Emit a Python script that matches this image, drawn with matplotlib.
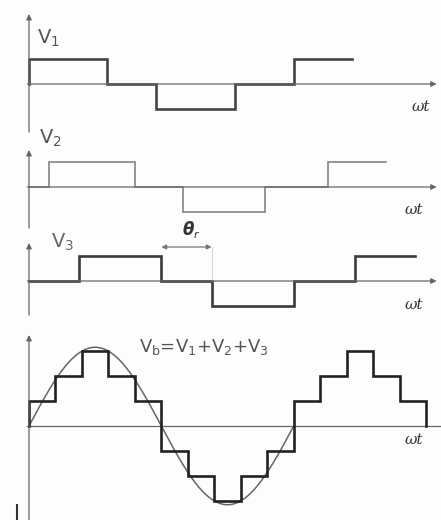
"""
Multilevel inverter: three phase-shifted square pulses V1, V2, V3
and the stepped output Vb = V1 + V2 + V3 against a sine reference.
"""
import numpy as np
import matplotlib
matplotlib.use("Agg")
import matplotlib.pyplot as plt

# switching instants (in step units) and levels of each pulse train
v1_edges = [0, 2.95, 4.8, 7.8, 10.0, 12.2]
v1_levels = [1, 0, -1, 0, 1]
v2_edges = [0, 0.75, 4.0, 5.8, 8.9, 11.3, 13.5]
v2_levels = [0, 1, 0, -1, 0, 1]
v3_edges = [0, 1.9, 5.0, 6.9, 10.0, 12.3, 14.6]
v3_levels = [0, 1, 0, -1, 0, 1]
vb_edges = [0, 1, 2, 3, 4, 5, 6, 7, 8, 9, 10, 11, 12, 13, 14, 15]
vb_levels = [1, 2, 3, 2, 1, -1, -2, -3, -2, -1, 1, 2, 3, 2, 1]

sine_amp = 3.15
sine_period = 10.0
theta_r = (5.0, 6.9)

W, H = 441, 520
X0, UX, UY = 29, 26.47, 25.0
AX_COL = "#666666"


def steps(edges, levels, rise=False, fall=False):
    xs = list(np.repeat(edges, 2)[1:-1])
    ys = list(np.repeat(levels, 2))
    if rise:
        xs, ys = [edges[0]] + xs, [0] + ys
    if fall:
        xs, ys = xs + [edges[-1]], ys + [0]
    return xs, ys


def panel(top, bottom, base):
    ax = fig.add_axes([0, 1 - bottom / H, 1, (bottom - top) / H])
    ax.set_xlim(-X0 / UX, (W - X0) / UX)
    ax.set_ylim(-(bottom - base) / UY, (base - top) / UY)
    ax.axis("off")
    ax.patch.set_alpha(0)
    return ax


def axes_lines(ax, ytop, ybot, xend, arrow_x=True):
    ax.annotate("", xy=(0, ytop), xytext=(0, ybot),
                arrowprops=dict(arrowstyle="-|>", mutation_scale=8,
                                lw=0.9, color=AX_COL, shrinkA=0, shrinkB=0))
    if arrow_x:
        ax.annotate("", xy=(xend, 0), xytext=(-0.06, 0),
                    arrowprops=dict(arrowstyle="-|>", mutation_scale=8,
                                    lw=0.9, color=AX_COL, shrinkA=0, shrinkB=0))
    else:
        ax.plot([-0.06, xend], [0, 0], color=AX_COL, lw=0.9)


def wt(ax, x, y):
    ax.text(x, y, "ωt", family="DejaVu Serif", style="italic",
            fontsize=11, color="#333333", ha="center", va="center")


fig = plt.figure(figsize=(W / 100, H / 100), dpi=100)
fig.patch.set_facecolor("#fdfdfd")

# V1
ax1 = panel(0, 135, 84)
axes_lines(ax1, 2.8, -1.92, 15.4)
x, y = steps(v1_edges, v1_levels, rise=True)
ax1.plot(x, y, color="#444444", lw=1.9, solid_joinstyle="miter")
ax1.text(0.3, 1.84, r"V$_{\mathregular{1}}$", fontsize=14, color="#555555",
         va="center")
wt(ax1, 14.8, -0.92)

# V2
ax2 = panel(135, 232, 187)
axes_lines(ax2, 1.48, -1.64, 15.4)
x, y = steps(v2_edges, v2_levels)
ax2.plot(x, y, color="#7a7a7a", lw=1.1, solid_joinstyle="miter")
ax2.text(0.38, 1.96, r"V$_{\mathregular{2}}$", fontsize=14, color="#555555",
         va="center")
wt(ax2, 14.55, -0.92)

# V3
ax3 = panel(232, 318, 281)
axes_lines(ax3, 1.52, -1.36, 15.4)
x, y = steps(v3_edges, v3_levels)
ax3.plot(x, y, color="#3a3a3a", lw=1.9, solid_joinstyle="miter")
ax3.text(0.85, 1.56, r"V$_{\mathregular{3}}$", fontsize=14, color="#666666",
         va="center")
wt(ax3, 14.55, -0.96)
ax3.plot([theta_r[1], theta_r[1]], [0, 1.36], color="#cccccc", lw=0.6)
ax3.annotate("", xy=(theta_r[0], 1.36), xytext=(theta_r[1], 1.36),
             arrowprops=dict(arrowstyle="<|-|>", mutation_scale=7, lw=0.9,
                             color="#777777", shrinkA=0, shrinkB=0))
ax3.text(6.0, 2.04, "θ", fontsize=12, fontweight="bold", style="italic",
         color="#333333", ha="center", va="center")
ax3.text(6.32, 1.86, "r", fontsize=8, style="italic", color="#333333",
         ha="center", va="center")

# Vb = V1 + V2 + V3
ax4 = panel(318, 520, 426)
axes_lines(ax4, 3.64, -3.8, 15.6, arrow_x=False)
t = np.linspace(0, sine_period, 300)
ax4.plot(t, sine_amp * np.sin(2 * np.pi * t / sine_period),
         color="#666666", lw=1.1)
x, y = steps(vb_edges, vb_levels, rise=True, fall=True)
ax4.plot(x, y, color="#222222", lw=1.9, solid_joinstyle="miter")
ax4.text(6.6, 3.16,
         r"V$_{\mathregular{b}}$=V$_{\mathregular{1}}$+V$_{\mathregular{2}}$"
         r"+V$_{\mathregular{3}}$",
         fontsize=13, color="#555555", ha="center", va="center")
wt(ax4, 14.55, -0.56)
ax4.plot([-0.45, -0.45], [-3.16, -3.8], color="#333333", lw=1.5)

fig.savefig("out.png", dpi=100, facecolor=fig.get_facecolor())
